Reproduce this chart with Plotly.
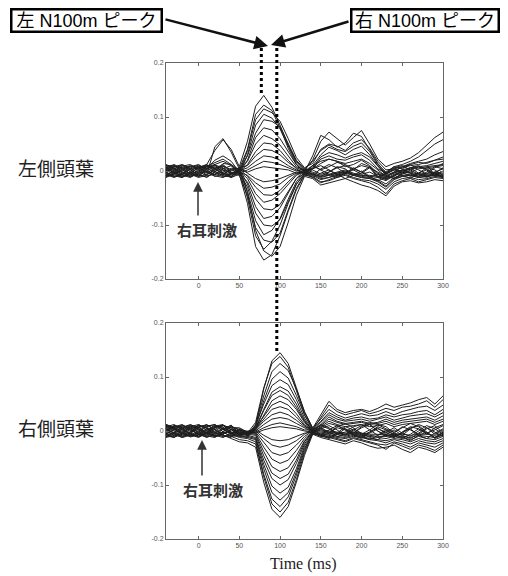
import plotly.graph_objects as go

# Time points (ms)
TIME_MS = [-40, -30, -20, -10, 0, 10, 20, 30, 40, 50, 60, 70, 80, 90, 100, 110, 120,
           130, 140, 150, 160, 170, 180, 190, 200, 210, 220, 230, 240, 250, 260, 270,
           280, 290, 300]

# Left temporal lobe channels (values in 1/1000 of the axis unit)
LEFT_TRACES = [
    [4,10,-2,-8,3,12,38,58,40,8,55,120,140,118,85,48,18,2,20,55,72,60,48,62,75,50,22,8,14,18,24,34,48,62,72],
    [-6,-1,9,12,2,-7,45,60,35,4,40,105,122,112,80,42,12,-2,28,66,58,44,52,70,64,38,14,-4,8,12,18,26,38,50,58],
    [10,3,-6,-2,-11,4,20,28,18,-2,38,95,115,108,92,60,25,6,14,40,50,46,38,52,58,42,18,2,4,8,14,18,22,30,36],
    [-3,-10,-4,6,11,3,12,18,10,-6,30,85,105,98,78,45,15,0,10,30,44,38,30,40,46,30,10,-6,2,6,10,12,16,20,26],
    [7,-4,-11,-3,5,9,16,22,12,2,28,70,95,92,82,52,20,4,18,38,48,40,36,46,52,36,12,-2,8,4,12,16,14,20,22],
    [-9,2,7,-1,-6,-12,-2,14,12,-4,20,62,80,76,60,35,12,-2,6,26,34,30,24,30,34,26,8,-8,-2,2,6,8,10,14,18],
    [1,8,12,5,-4,-2,-10,-6,3,4,18,50,66,60,48,28,8,2,4,22,28,22,20,26,30,20,4,-4,2,-2,4,6,8,10,12],
    [12,6,-1,-9,-7,4,10,2,-4,-2,12,36,52,50,38,20,4,-4,10,18,22,18,14,18,22,14,2,-10,-4,2,-2,4,6,8,10],
    [-2,-9,-12,0,8,6,-3,-11,-6,6,10,28,40,38,30,16,6,0,4,14,22,18,8,12,20,10,-4,-12,-2,8,12,2,-6,6,14],
    [5,12,4,-5,-1,-9,-6,4,10,0,6,18,28,26,20,10,2,-6,10,2,8,16,12,4,-2,8,-6,-10,-14,-4,6,10,2,-8,0],
    [-11,-5,3,9,4,-3,5,12,-2,-4,2,10,18,16,12,6,0,4,-8,4,12,6,-4,2,14,8,-10,-16,-8,2,-4,-10,-2,8,4],
    [3,-3,-8,-12,-2,8,12,-4,-8,4,-2,4,8,6,4,2,-4,-2,2,-6,-2,8,4,-8,-4,6,-12,-6,4,-2,-10,-4,6,2,-8],
    [6,1,-7,-10,-3,9,4,-6,-12,-6,-60,-140,-165,-155,-120,-75,-35,-8,-10,-20,-18,-12,-8,-14,-18,-22,-30,-42,-24,-18,-14,-20,-16,-12,-14],
    [-4,7,11,3,-8,-11,-1,5,-4,2,-40,-110,-148,-158,-140,-95,-45,-10,-14,-26,-22,-18,-14,-20,-26,-30,-36,-46,-28,-20,-18,-22,-20,-16,-18],
    [9,11,2,-5,-9,1,8,-3,-10,0,-50,-120,-145,-130,-100,-60,-25,-4,-6,-14,-12,-6,-2,-8,-12,-14,-20,-30,-16,-10,-8,-12,-10,-8,-10],
    [-10,-3,5,10,6,-2,-9,-12,-5,-8,-45,-105,-128,-132,-115,-72,-32,-6,-12,-22,-16,-10,-6,-12,-16,-18,-24,-34,-20,-14,-12,-16,-14,-10,-12],
    [2,-6,-12,-4,7,12,3,-5,1,6,-38,-92,-118,-110,-88,-52,-20,-2,-4,-12,-8,-4,0,-6,-10,-12,-16,-24,-12,-8,-6,-10,-8,-6,-8],
    [-7,-12,-5,4,9,-1,-6,2,-12,-2,-30,-78,-100,-102,-90,-58,-24,-6,-8,-16,-12,-8,-4,-8,-12,-14,-18,-28,-14,-10,-8,-12,-10,-8,-10],
    [11,4,-3,-11,-5,5,11,6,-6,4,-24,-66,-88,-84,-68,-40,-14,2,-2,-8,-6,-2,2,-4,-8,-10,-12,-18,-8,-4,-2,-6,-4,-2,-4],
    [-1,5,10,2,-10,-6,2,9,-3,-6,-20,-52,-70,-72,-62,-38,-14,-4,-6,-10,-8,-4,-2,-6,-8,-8,-10,-14,-6,-2,-4,-8,-6,-4,-6],
    [8,-2,-10,-7,1,10,6,-8,-4,0,-14,-42,-58,-54,-42,-24,-8,0,-12,-4,2,-6,-14,-8,0,-10,-18,-12,-2,-8,-14,-4,2,-6,-12],
    [-12,-6,1,8,12,2,-7,-2,5,4,-10,-30,-44,-45,-36,-20,-6,-2,4,10,2,-8,-4,6,-2,-12,-6,-14,-10,0,6,-4,-10,-2,4],
    [0,9,6,-6,-12,-8,4,10,2,-2,-8,-22,-32,-30,-24,-12,-4,2,-6,-10,-2,6,10,2,-6,-2,-10,-4,6,10,2,-6,-12,-4,6],
    [-5,-11,-7,3,6,11,-1,-9,-11,6,-4,-14,-20,-18,-14,-8,-2,-4,10,2,-6,-12,-4,4,10,6,-2,-8,-14,-6,2,8,4,-4,-10],
]

# Right temporal lobe channels (values in 1/1000 of the axis unit)
RIGHT_TRACES = [
    [5,9,2,-6,-10,-3,6,11,3,-8,-12,10,78,130,145,125,80,35,5,30,55,40,34,38,40,36,42,50,44,48,52,58,62,50,65],
    [-8,-2,7,12,5,-4,-11,-6,2,-6,-4,16,80,125,138,118,75,30,2,26,48,36,30,34,38,32,36,42,38,44,46,50,56,44,58],
    [11,4,-5,-9,-2,8,12,3,-6,0,-8,12,65,110,125,112,78,36,6,22,40,30,24,28,32,28,30,36,30,36,40,44,46,38,48],
    [-4,-11,-6,3,10,7,-2,-9,-12,4,-10,8,56,96,110,98,66,30,4,18,34,26,20,24,26,22,24,30,26,30,32,36,38,30,40],
    [2,7,11,4,-6,-12,-5,4,10,-4,-6,10,50,84,95,86,58,24,0,16,30,22,18,20,22,18,22,26,20,24,28,30,32,26,34],
    [-10,-4,4,9,2,-7,-1,10,6,6,-2,6,40,72,82,74,50,20,-2,12,26,18,14,16,18,14,16,22,16,20,22,24,26,20,28],
    [8,12,3,-5,-11,-2,9,5,-4,2,-8,4,38,66,75,66,44,18,2,10,22,16,12,14,16,12,14,18,12,16,18,20,22,16,22],
    [-1,-7,-12,-3,6,11,4,-8,-10,-2,-6,2,30,56,65,58,40,16,-2,8,18,12,8,10,12,8,10,14,8,12,14,16,18,12,18],
    [12,5,-4,-10,-6,2,10,7,-2,-6,-4,6,28,48,55,48,32,12,0,6,14,10,2,-4,8,16,12,4,-2,6,14,8,-4,2,10],
    [-5,3,10,6,-3,-9,-12,-1,8,2,-2,4,22,40,45,40,26,10,-2,4,-4,8,14,6,-6,2,12,8,-4,-8,4,12,6,-6,2],
    [3,-4,-9,-1,7,12,2,-6,3,-2,-4,2,18,30,35,30,20,8,2,10,4,-6,-2,8,12,2,-8,-2,6,-4,-10,0,10,4,-6],
    [-12,-8,1,10,4,-5,6,11,-4,4,-2,0,12,22,25,22,14,6,-2,-8,2,10,4,-6,-12,-2,8,2,-8,-4,6,10,-2,-12,-4],
    [7,1,-10,-6,12,5,-3,-11,-7,-4,-6,-2,6,12,15,12,8,2,2,12,6,-4,-8,2,10,12,0,-8,-12,-2,8,4,-6,6,12],
    [-3,10,6,-4,-9,-1,11,3,-5,2,-2,-4,2,6,8,6,4,0,-2,-10,-4,6,2,-8,-14,-4,4,-2,-10,-14,-6,4,-4,-12,-2],
    [4,-3,-10,-5,8,11,2,-7,-14,-20,-22,-30,-95,-145,-160,-140,-95,-45,-6,-12,-16,-20,-24,-18,-22,-28,-32,-30,-26,-34,-40,-30,-34,-40,-30],
    [-9,-12,-2,7,3,-4,-10,-2,-10,-16,-18,-24,-85,-135,-150,-132,-90,-40,-4,-10,-12,-16,-20,-14,-18,-22,-26,-34,-22,-28,-34,-26,-30,-36,-26],
    [10,6,-4,-11,-7,2,9,12,-6,-12,-14,-20,-80,-126,-140,-122,-82,-36,-2,-8,-10,-14,-18,-12,-16,-20,-24,-26,-20,-24,-30,-22,-26,-30,-22],
    [-2,8,12,2,-6,-10,-3,5,-8,-10,-12,-16,-70,-114,-128,-114,-76,-32,-6,-6,-8,-12,-14,-10,-12,-16,-18,-22,-16,-20,-24,-18,-22,-24,-18],
    [6,-5,-12,-8,1,9,12,-2,-10,-8,-10,-14,-62,-102,-115,-104,-70,-28,-4,-4,-6,-10,-12,-8,-10,-14,-16,-18,-14,-16,-20,-14,-18,-20,-14],
    [-11,-2,6,11,7,-3,-9,-5,3,-6,-8,-12,-54,-88,-100,-90,-60,-24,-2,-2,-4,-6,-10,-6,-8,-10,-12,-14,-10,-12,-16,-10,-14,-16,-10],
    [1,10,5,-7,-12,-4,7,11,-2,-4,-6,-8,-46,-78,-88,-80,-54,-20,0,0,-2,-4,-6,-4,-6,-8,-10,-10,-8,-10,-12,-8,-10,-12,-8],
    [9,3,-6,-2,10,6,-8,-12,-4,-8,-4,-6,-38,-66,-75,-68,-46,-18,-4,2,0,-2,-4,-2,-4,-6,-6,-8,-6,-6,-8,-6,-6,-8,-4],
    [-6,-12,-3,5,-1,-8,3,10,6,-4,-2,-4,-30,-52,-60,-54,-36,-14,-2,-8,-14,-6,4,-2,-10,-16,-8,2,-6,-12,-18,-8,-2,-14,-6],
    [12,7,-1,-9,-4,4,-6,-2,9,2,-4,-2,-22,-40,-45,-40,-26,-10,0,6,-2,-10,-6,4,-4,-12,-16,-6,2,-8,-14,-4,6,-2,-10],
    [-7,4,9,1,-5,-11,-8,3,11,-6,-2,0,-14,-26,-30,-26,-18,-6,2,-6,-12,-4,8,2,-8,-2,6,-6,-12,-2,4,-8,-14,-4,4],
    [3,-9,-5,8,12,1,-10,-6,4,0,0,2,-8,-16,-18,-16,-10,-4,-2,4,10,2,-8,-4,6,12,0,-10,-4,8,2,-6,4,10,-4],
]

X_TICKS = [0, 50, 100, 150, 200, 250, 300]
Y_TICKS = [-0.2, -0.1, 0, 0.1, 0.2]
Y_TICK_TEXT = ["-0.2", "-0.1", "0", "0.1", "0.2"]

PANEL_LABELS = ["左側頭葉", "右側頭葉"]
STIM_LABEL = "右耳刺激"
PEAK_LABELS = ["左 N100m ピーク", "右 N100m ピーク"]
PEAK_TIMES = [77, 96]  # ms
X_TITLE = "Time (ms)"

# The page body has an 8 px margin; lay the figure out in window pixels.
OFF = 8
W, H = 500, 568
def px(x):
    return (x - OFF) / W
def py(y):
    return 1 - (y - OFF) / H

fig = go.Figure()
for tr in LEFT_TRACES:
    fig.add_trace(go.Scatter(x=TIME_MS, y=[v / 1000 for v in tr], mode="lines",
                             line=dict(color="#1e1e1e", width=1),
                             xaxis="x", yaxis="y", showlegend=False, hoverinfo="skip"))
for tr in RIGHT_TRACES:
    fig.add_trace(go.Scatter(x=TIME_MS, y=[v / 1000 for v in tr], mode="lines",
                             line=dict(color="#1e1e1e", width=1),
                             xaxis="x2", yaxis="y2", showlegend=False, hoverinfo="skip"))

tickfont = dict(size=7, color="#555", family="Liberation Sans")
ax_common = dict(range=[-40, 300], showline=True, linecolor="#666", linewidth=1,
                 mirror="ticks", ticks="inside", ticklen=3, tickcolor="#666",
                 tickvals=X_TICKS, showgrid=False, zeroline=False, automargin=False,
                 tickfont=tickfont)
ay_common = dict(range=[-0.2, 0.2], showline=True, linecolor="#666", linewidth=1,
                 mirror="ticks", ticks="inside", ticklen=3, tickcolor="#666",
                 tickvals=Y_TICKS, ticktext=Y_TICK_TEXT, showgrid=False, zeroline=False,
                 automargin=False, tickfont=tickfont)

xdom = [px(166), px(443)]
fig.update_layout(
    width=W, height=H, margin=dict(l=0, r=0, t=0, b=0),
    paper_bgcolor="white", plot_bgcolor="white",
    xaxis=dict(domain=xdom, anchor="y", **ax_common),
    yaxis=dict(domain=[py(279), py(63)], anchor="x", **ay_common),
    xaxis2=dict(domain=xdom, anchor="y2", **ax_common),
    yaxis2=dict(domain=[py(539), py(323)], anchor="x2", **ay_common),
)

# Dotted peak markers
fig.add_shape(type="line", xref="x", yref="paper", x0=PEAK_TIMES[0], x1=PEAK_TIMES[0],
              y0=py(48), y1=py(93), line=dict(color="black", width=3, dash="dot"), layer="above")
fig.add_shape(type="line", xref="x", yref="paper", x0=PEAK_TIMES[1], x1=PEAK_TIMES[1],
              y0=py(48), y1=py(352), line=dict(color="black", width=3, dash="dot"), layer="above")

cjk = "Noto Sans CJK JP"
def label(text, x, y, **kw):
    d = dict(text=text, x=px(x), y=py(y), xref="paper", yref="paper", showarrow=False,
             xanchor="center", yanchor="middle")
    d.update(kw)
    return d

ann = []
ann.append(label(PANEL_LABELS[0], 56, 167, font=dict(size=19, family=cjk, color="#222")))
ann.append(label(PANEL_LABELS[1], 56, 427, font=dict(size=19, family=cjk, color="#222")))
for (tx, ty, ax_x, tip_y, tail_y) in [(207, 229, 198, 182, 217), (213, 489, 202, 440, 477)]:
    ann.append(label("<b>" + STIM_LABEL + "</b>", tx, ty,
                     font=dict(size=15, family=cjk, color="#333")))
    ann.append(dict(text="", x=px(ax_x), y=py(tip_y), xref="paper", yref="paper",
                    showarrow=True, ax=0, ay=tail_y - tip_y, arrowhead=2, arrowsize=1.3,
                    arrowwidth=1.5, arrowcolor="#333"))
ann.append(label(PEAK_LABELS[0], 86.5, 20.5, width=148, height=20, borderwidth=2.5,
                 borderpad=0, bordercolor="black", bgcolor="white",
                 font=dict(size=18, family="Liberation Sans, " + cjk, color="black")))
ann.append(label(PEAK_LABELS[1], 425, 20.5, width=145, height=20, borderwidth=2.5,
                 borderpad=0, bordercolor="black", bgcolor="white",
                 font=dict(size=18, family="Liberation Sans, " + cjk, color="black")))
ann.append(dict(text="", x=px(268), y=py(46), xref="paper", yref="paper", showarrow=True,
                ax=164 - 268, ay=19 - 46, arrowhead=2, arrowsize=1.1, arrowwidth=2.5,
                arrowcolor="#111"))
ann.append(dict(text="", x=px(271), y=py(45), xref="paper", yref="paper", showarrow=True,
                ax=350 - 271, ay=21 - 45, arrowhead=2, arrowsize=1.1, arrowwidth=2.5,
                arrowcolor="#111"))
ann.append(label(X_TITLE, 303, 564, font=dict(size=16, family="Liberation Serif", color="#222")))
fig.update_layout(annotations=ann)

fig.write_html("out.html")
